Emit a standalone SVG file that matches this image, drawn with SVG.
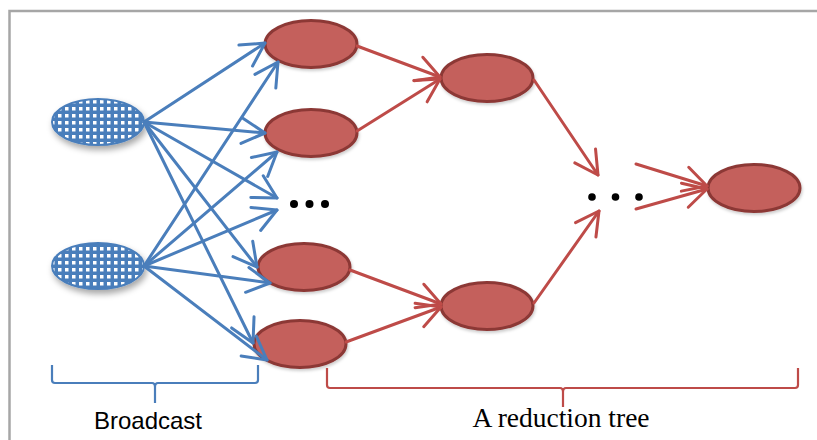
<svg xmlns="http://www.w3.org/2000/svg" width="817" height="440" viewBox="0 0 817 440">
<style>
.frame{fill:none;stroke:#A6A6A6;stroke-width:2.5}
.src{fill:url(#grid);stroke:#4A7EBB;stroke-width:2;filter:url(#sh)}
.red{fill:#C4605C;stroke:#8C3836;stroke-width:3;filter:url(#sh2)}
.bl{fill:none;stroke:#4A7EBB;stroke-width:3;stroke-linecap:round;marker-end:url(#ab)}
.rl{fill:none;stroke:#BE4B48;stroke-width:3;stroke-linecap:round;marker-end:url(#ar)}
.dot{fill:#000}
.bb{fill:none;stroke:#4A7EBB;stroke-width:2.2}
.rb{fill:none;stroke:#BE4B48;stroke-width:2.2}
.t1{font-family:"Liberation Sans",Arial,sans-serif;font-size:24px;fill:#000}
.t2{font-family:"Liberation Serif","Times New Roman",serif;font-size:27.5px;fill:#000}
</style>
<defs>
<pattern id="grid" width="7" height="7" patternUnits="userSpaceOnUse" x="0" y="0">
<rect width="7" height="7" fill="#4A7EBB"/>
<rect x="2" y="2" width="3.5" height="3.5" fill="#FFFFFF"/>
</pattern>
<filter id="sh" x="-30%" y="-30%" width="160%" height="180%">
<feDropShadow dx="2" dy="4" stdDeviation="3" flood-color="#000" flood-opacity="0.35"/>
</filter>
<filter id="sh2" x="-30%" y="-30%" width="160%" height="180%">
<feDropShadow dx="1" dy="2" stdDeviation="1.5" flood-color="#000" flood-opacity="0.2"/>
</filter>
<marker id="ab" markerUnits="userSpaceOnUse" orient="auto" refX="0" refY="0" markerWidth="60" markerHeight="60" overflow="visible">
<path d="M-23,-12.5 L0,0 L-23,12.5" fill="none" stroke="#4A7EBB" stroke-width="3" stroke-linecap="round" stroke-linejoin="round"/>
</marker>
<marker id="ar" markerUnits="userSpaceOnUse" orient="auto" refX="0" refY="0" markerWidth="60" markerHeight="60" overflow="visible">
<path d="M-23,-12.5 L0,0 L-23,12.5" fill="none" stroke="#BE4B48" stroke-width="3" stroke-linecap="round" stroke-linejoin="round"/>
</marker>
</defs>
<rect width="817" height="440" fill="#FFFFFF"/>
<path class="frame" d="M9.5,440 V11 H817"/>

<g id="nodes">
<g id="b1"><ellipse class="src" cx="98" cy="122" rx="46" ry="23"/></g>
<g id="b2"><ellipse class="src" cx="98" cy="266" rx="46" ry="23"/></g>
<g id="r1"><ellipse class="red" cx="311" cy="44" rx="46" ry="23.5"/></g>
<g id="r2"><ellipse class="red" cx="311" cy="133" rx="46" ry="23.5"/></g>
<g id="r3"><ellipse class="red" cx="304" cy="267" rx="46" ry="23.5"/></g>
<g id="r4"><ellipse class="red" cx="300" cy="344" rx="46" ry="23.5"/></g>
<g id="r5"><ellipse class="red" cx="487" cy="78" rx="46" ry="23.5"/></g>
<g id="r6"><ellipse class="red" cx="487" cy="306" rx="46" ry="23.5"/></g>
<g id="r7"><ellipse class="red" cx="754" cy="188" rx="46" ry="23.5"/></g>
<g id="dots1"><circle class="dot" cx="294" cy="204" r="4"/><circle class="dot" cx="309.5" cy="204" r="4"/><circle class="dot" cx="325" cy="204" r="4"/></g>
<g id="dots2"><circle class="dot" cx="592" cy="197" r="3.8"/><circle class="dot" cx="615.5" cy="197" r="3.8"/><circle class="dot" cx="639" cy="197" r="3.8"/></g>
</g>

<g id="connectors">
<line class="bl" x1="144" y1="122" x2="265" y2="43"/>
<line class="bl" x1="144" y1="122" x2="265" y2="133"/>
<line class="bl" x1="144" y1="122" x2="277" y2="198"/>
<line class="bl" x1="144" y1="122" x2="257" y2="267"/>
<line class="bl" x1="144" y1="122" x2="253" y2="343"/>
<line class="bl" x1="144" y1="266" x2="278" y2="62"/>
<line class="bl" x1="144" y1="266" x2="277" y2="152"/>
<line class="bl" x1="144" y1="266" x2="277" y2="210"/>
<line class="bl" x1="144" y1="266" x2="270" y2="283"/>
<line class="bl" x1="144" y1="266" x2="267" y2="360"/>
<line class="rl" x1="357" y1="46" x2="440" y2="77"/>
<line class="rl" x1="357" y1="131" x2="440" y2="79"/>
<line class="rl" x1="534" y1="80" x2="598" y2="175"/>
<line class="rl" x1="350" y1="270" x2="441" y2="304"/>
<line class="rl" x1="346" y1="342" x2="441" y2="307"/>
<line class="rl" x1="534" y1="303" x2="599" y2="211"/>
<line class="rl" x1="636" y1="164" x2="707" y2="186"/>
<line class="rl" x1="636" y1="209" x2="707" y2="189"/>
</g>

<g id="braces">
<path class="bb" d="M52,365 V380 Q52,383 55,383 H152 Q155,383 155,387 V403 M155,387 Q155,383 158,383 H255 Q258,383 258,380 V365"/>
<path class="rb" d="M327,368 V385 Q327,388 330,388 H560 Q563,388 563,392 V407 M563,392 Q563,388 566,388 H795 Q798,388 798,385 V368"/>
</g>

<g id="labels">
<text class="t1" x="148" y="429" text-anchor="middle">Broadcast</text>
<text class="t2" x="561" y="427" text-anchor="middle">A reduction tree</text>
</g>
</svg>
